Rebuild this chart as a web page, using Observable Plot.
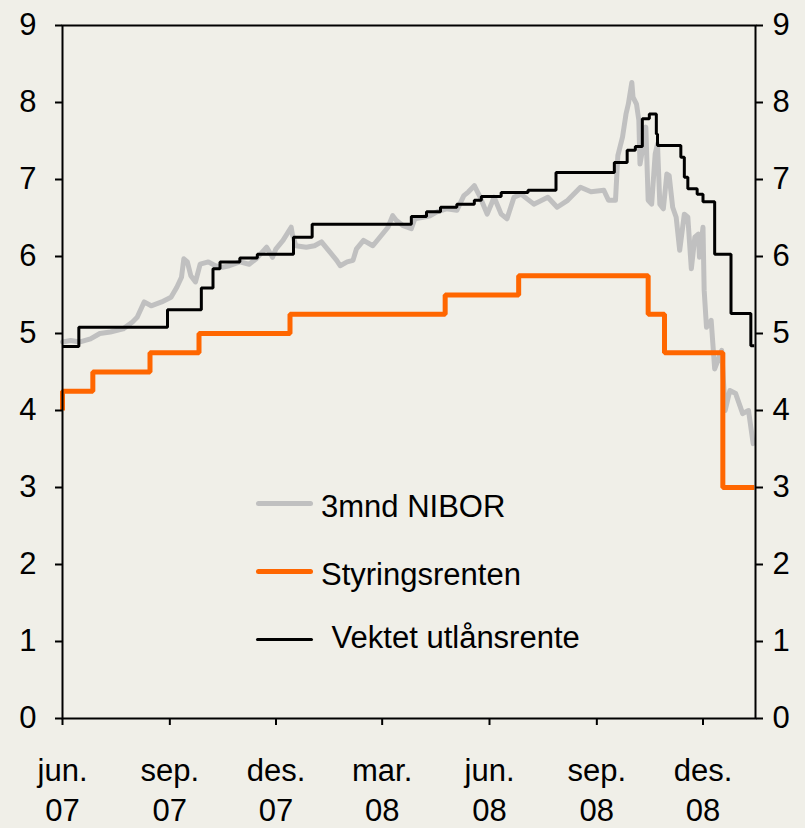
<!DOCTYPE html>
<html>
<head>
<meta charset="utf-8">
<script src="https://cdn.jsdelivr.net/npm/d3@7"></script>
<script src="https://cdn.jsdelivr.net/npm/@observablehq/plot@0.6"></script>
<style>
  html, body { margin: 0; padding: 0; background: #F0EFE8; }
  #wrap { position: relative; width: 805px; height: 828px; font-family: "Liberation Sans", Arial, sans-serif; }
  .leg-line { position: absolute; height: 5px; border-radius: 2.5px; }
  .leg-text { position: absolute; font-size: 31px; line-height: 31px; color: #000; white-space: pre; }
</style>
</head>
<body>
<div id="wrap"></div>
<script>
// ---- Data ----
const niborDates = ["2007-06-01","2007-06-08","2007-06-16","2007-06-25","2007-07-03","2007-07-12","2007-07-23","2007-07-31","2007-08-04","2007-08-10","2007-08-16","2007-08-25","2007-09-02","2007-09-07","2007-09-11","2007-09-13","2007-09-16","2007-09-19","2007-09-23","2007-09-27","2007-10-04","2007-10-10","2007-10-16","2007-10-22","2007-10-31","2007-11-08","2007-11-14","2007-11-23","2007-11-28","2007-12-01","2007-12-07","2007-12-14","2007-12-15","2007-12-18","2007-12-27","2008-01-03","2008-01-09","2008-01-15","2008-01-22","2008-01-25","2008-01-31","2008-02-05","2008-02-08","2008-02-14","2008-02-22","2008-02-28","2008-03-06","2008-03-10","2008-03-13","2008-03-19","2008-03-26","2008-03-29","2008-04-05","2008-04-11","2008-04-17","2008-04-25","2008-05-04","2008-05-10","2008-05-14","2008-05-19","2008-05-24","2008-05-30","2008-06-05","2008-06-11","2008-06-16","2008-06-22","2008-06-28","2008-07-09","2008-07-21","2008-07-29","2008-08-07","2008-08-18","2008-08-27","2008-09-07","2008-09-11","2008-09-17","2008-09-19","2008-09-23","2008-09-26","2008-09-28","2008-10-01","2008-10-02","2008-10-05","2008-10-07","2008-10-08","2008-10-11","2008-10-13","2008-10-15","2008-10-18","2008-10-21","2008-10-23","2008-10-25","2008-10-28","2008-10-31","2008-11-02","2008-11-05","2008-11-08","2008-11-11","2008-11-15","2008-11-18","2008-11-21","2008-11-24","2008-11-27","2008-11-28","2008-12-01","2008-12-02","2008-12-04","2008-12-08","2008-12-11","2008-12-17","2008-12-20","2008-12-24","2008-12-29","2009-01-04","2009-01-09","2009-01-13"];
const niborValues = [4.89,4.91,4.89,4.93,5.00,5.02,5.06,5.15,5.21,5.41,5.36,5.41,5.47,5.60,5.73,5.97,5.93,5.75,5.67,5.90,5.93,5.88,5.86,5.88,5.93,5.90,5.97,6.12,5.99,6.10,6.21,6.38,6.29,6.14,6.12,6.14,6.19,6.08,5.95,5.88,5.93,5.95,6.10,6.21,6.14,6.25,6.38,6.53,6.47,6.40,6.36,6.49,6.51,6.53,6.58,6.62,6.60,6.79,6.84,6.92,6.77,6.55,6.77,6.55,6.49,6.77,6.81,6.68,6.77,6.64,6.73,6.90,6.84,6.86,6.73,6.73,7.31,7.55,7.85,7.98,8.26,8.07,7.98,7.77,7.20,7.46,7.68,6.73,6.68,7.33,7.46,6.68,6.62,7.07,7.05,6.64,6.51,6.08,6.55,6.51,5.84,6.25,6.29,5.99,6.38,5.56,5.08,5.17,4.54,4.78,4.00,4.26,4.22,3.96,4.00,3.57];

const policyDates = ["2007-06-01","2007-06-01","2007-06-27","2007-08-15","2007-09-26","2007-12-13","2008-04-24","2008-06-26","2008-10-15","2008-10-29","2008-12-18","2009-01-14"];
const policyValues = [4.00,4.25,4.50,4.75,5.00,5.25,5.50,5.75,5.25,4.75,3.00,3.00];

const lendingDates = ["2007-06-01","2007-06-15","2007-08-30","2007-09-28","2007-10-08","2007-10-14","2007-10-31","2007-11-15","2007-12-16","2008-01-01","2008-03-26","2008-04-08","2008-04-20","2008-05-04","2008-05-19","2008-05-25","2008-06-11","2008-07-04","2008-07-28","2008-09-16","2008-09-27","2008-10-04","2008-10-10","2008-10-16","2008-10-22","2008-10-23","2008-11-12","2008-11-15","2008-11-18","2008-11-26","2008-12-01","2008-12-11","2008-12-25","2009-01-11","2009-01-14"];
const lendingValues = [4.83,5.08,5.31,5.59,5.84,5.93,5.98,6.03,6.25,6.42,6.52,6.58,6.64,6.68,6.73,6.78,6.83,6.86,7.09,7.22,7.38,7.43,7.79,7.85,7.59,7.44,7.29,7.03,6.88,6.81,6.71,6.03,5.26,4.84,4.84];

const xTickDates = ["2007-06-01","2007-09-01","2007-12-01","2008-03-01","2008-06-01","2008-09-01","2008-12-01"];
const xTickLabels = ["jun.\n07","sep.\n07","des.\n07","mar.\n08","jun.\n08","sep.\n08","des.\n08"];
const yTicks = [0,1,2,3,4,5,6,7,8,9];

const seriesNames = ["3mnd NIBOR","Styringsrenten"," Vektet utlånsrente"];
const seriesColors = ["#C0C0C0","#FF6600","#000000"];

// ---- Build rows ----
const toRows = (dates, values) => dates.map((d, i) => ({date: new Date(d), value: values[i]}));
const nibor = toRows(niborDates, niborValues);
const policy = toRows(policyDates, policyValues);
const lending = toRows(lendingDates, lendingValues);
const tickDates = xTickDates.map(d => new Date(d));
const labelMap = new Map(tickDates.map((d, i) => [+d, xTickLabels[i]]));

const chart = Plot.plot({
  width: 805,
  height: 828,
  marginTop: 25,
  marginBottom: 110,
  marginLeft: 62,
  marginRight: 50,
  style: {background: "transparent", fontFamily: "'Liberation Sans', Arial, sans-serif", fontSize: "31px", color: "#000", overflow: "visible"},
  x: {type: "utc", domain: [new Date("2007-06-01"), new Date("2009-01-15")]},
  y: {domain: [0, 9]},
  marks: [
    Plot.lineY(nibor, {x: "date", y: "value", stroke: seriesColors[0], strokeWidth: 5}),
    Plot.lineY(policy, {x: "date", y: "value", stroke: seriesColors[1], strokeWidth: 5, curve: "step-after", strokeLinejoin: "miter", strokeLinecap: "butt"}),
    Plot.lineY(lending, {x: "date", y: "value", stroke: seriesColors[2], strokeWidth: 3, curve: "step-after", strokeLinejoin: "miter", strokeLinecap: "butt"}),
    Plot.frame({stroke: "#000", strokeWidth: 2}),
    Plot.axisY({anchor: "left", ticks: yTicks, tickSize: 7, tickPadding: 19, label: null, fontSize: 31, strokeWidth: 2}),
    Plot.axisY({anchor: "right", ticks: yTicks, tickSize: 7, tickPadding: 10, label: null, fontSize: 31, strokeWidth: 2}),
    Plot.axisX({ticks: tickDates, tickFormat: d => labelMap.get(+d), tickSize: 7, tickPadding: 27, lineHeight: 1.3, label: null, fontSize: 31, strokeWidth: 2})
  ]
});

const wrap = document.getElementById("wrap");
wrap.appendChild(chart);

// ---- Legend (HTML overlay) ----
const legendRows = [
  {lineTop: 503, textTop: 491, textLeft: 321, h: 5},
  {lineTop: 571, textTop: 559, textLeft: 321, h: 5},
  {lineTop: 639, textTop: 622, textLeft: 323, h: 3}
];
seriesNames.forEach((name, i) => {
  const r = legendRows[i];
  const ln = document.createElement("div");
  ln.className = "leg-line";
  ln.style.left = "256px";
  ln.style.width = "57px";
  ln.style.height = r.h + "px";
  ln.style.top = (r.lineTop - r.h / 2) + "px";
  ln.style.background = seriesColors[i];
  wrap.appendChild(ln);
  const tx = document.createElement("div");
  tx.className = "leg-text";
  tx.style.left = r.textLeft + "px";
  tx.style.top = r.textTop + "px";
  tx.textContent = name;
  wrap.appendChild(tx);
});
</script>
</body>
</html>
